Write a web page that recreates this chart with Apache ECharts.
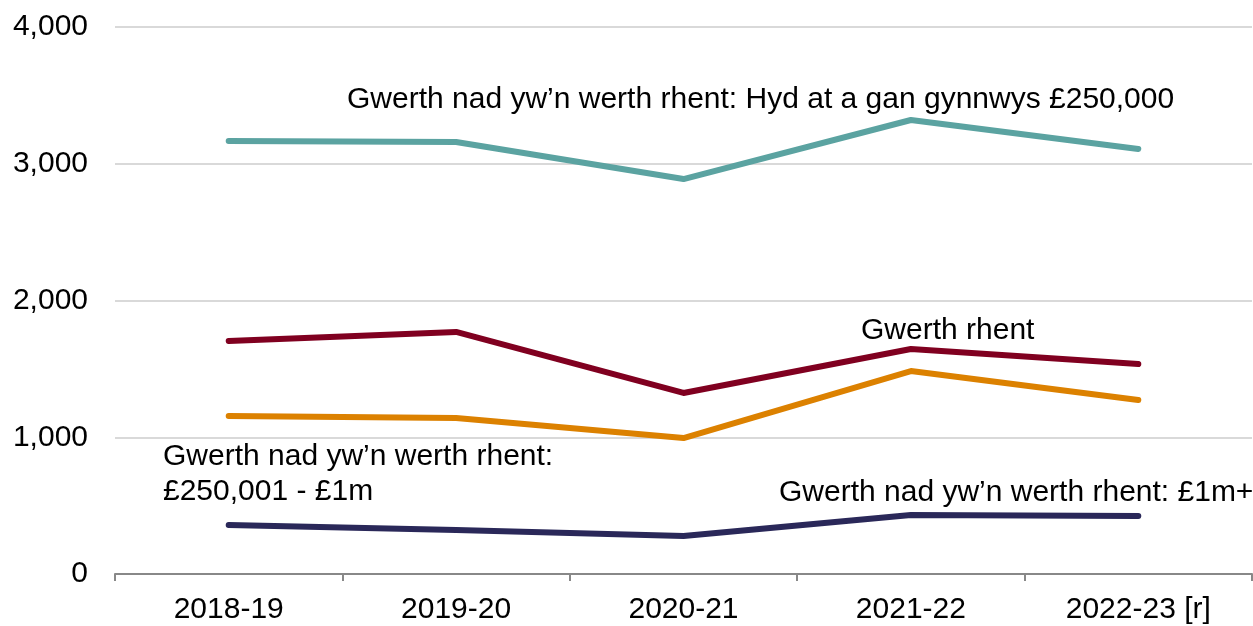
<!DOCTYPE html>
<html>
<head>
<meta charset="utf-8">
<script src="https://cdn.jsdelivr.net/npm/echarts@6/dist/echarts.min.js"></script>
<style>
html, body { margin: 0; padding: 0; background: #fff; }
#main { width: 1253px; height: 626px; }
</style>
</head>
<body>
<div id="main"></div>
<script>
// categories and values
var years = ['2018-19', '2019-20', '2020-21', '2021-22', '2022-23 [r]'];
var upTo250k = [3166, 3159, 2888, 3320, 3108];
var rentValue = [1704, 1770, 1324, 1645, 1536];
var mid250kTo1m = [1155, 1141, 994, 1484, 1272];
var over1m = [358, 322, 278, 431, 424];
var yTicks = [0, 1000, 2000, 3000, 4000];

var font = 'Liberation Sans, Arial, sans-serif';

function lineSeries(name, data, color) {
    return {
        name: name,
        type: 'line',
        data: data,
        symbol: 'none',
        lineStyle: { width: 6, color: color, cap: 'round', join: 'round' },
        itemStyle: { color: color }
    };
}

function note(x, y, text) {
    return {
        type: 'text', left: x, top: y,
        style: { text: text, font: '30px ' + font, fill: '#000' }
    };
}

var myChart = echarts.init(document.getElementById('main'));

var option = {
    animation: false,
    grid: { left: 115, right: 1, top: 27, bottom: 52 },
    xAxis: {
        type: 'category',
        data: years,
        boundaryGap: true,
        axisLine: { lineStyle: { color: '#888', width: 2 } },
        axisTick: { show: true, length: 7, lineStyle: { color: '#888', width: 2 } },
        axisLabel: { color: '#000', fontSize: 30, fontFamily: font, margin: 21 }
    },
    yAxis: {
        type: 'value',
        min: yTicks[0],
        max: yTicks[yTicks.length - 1],
        interval: 1000,
        axisLine: { show: false },
        axisTick: { show: false },
        splitLine: { lineStyle: { color: '#d9d9d9', width: 2 } },
        axisLabel: {
            color: '#000', fontSize: 30, fontFamily: font, margin: 27,
            formatter: function (v) { return v.toLocaleString('en-GB'); }
        }
    },
    series: [
        lineSeries('Hyd at a gan gynnwys £250,000', upTo250k, '#5ba3a1'),
        lineSeries('Gwerth rhent', rentValue, '#800020'),
        lineSeries('£250,001 - £1m', mid250kTo1m, '#dc8100'),
        lineSeries('£1m+', over1m, '#2a2859')
    ],
    graphic: [
        note(347, 85, 'Gwerth nad yw’n werth rhent: Hyd at a gan gynnwys £250,000'),
        note(861, 316, 'Gwerth rhent'),
        note(163, 442, 'Gwerth nad yw’n werth rhent:'),
        note(163, 477, '£250,001 - £1m'),
        note(779, 478, 'Gwerth nad yw’n werth rhent: £1m+')
    ]
};

myChart.setOption(option);
</script>
</body>
</html>
